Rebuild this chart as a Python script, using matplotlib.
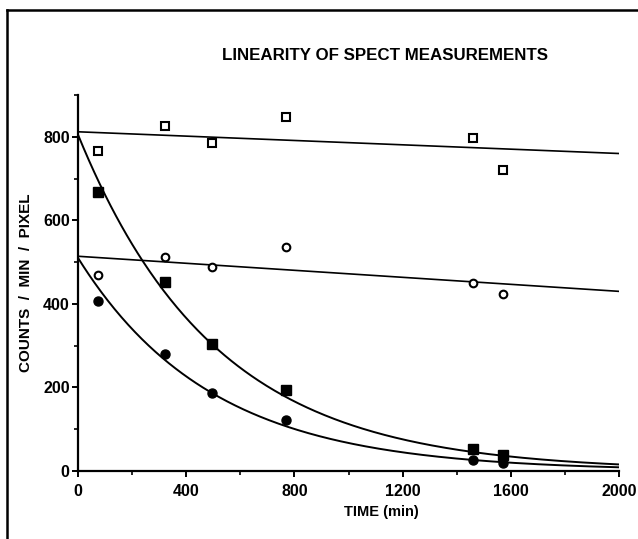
import numpy as np
import matplotlib
matplotlib.use("Agg")
from matplotlib import pyplot as plt
from matplotlib.ticker import MultipleLocator

plt.rcParams["font.family"] = ["Liberation Sans", "DejaVu Sans"]
plt.rcParams["font.weight"] = "bold"

TITLE = "LINEARITY OF SPECT MEASUREMENTS"

# sample times (min)
time_min = [75, 320, 495, 770, 1460, 1570]

# measured counts / min / pixel
open_square = [767, 825, 785, 847, 797, 721]
open_circle = [469, 513, 489, 536, 450, 423]
filled_square = [669, 452, 304, 193, 52, 38]
filled_circle = [408, 279, 187, 123, 26, 20]

# fitted lines: (intercept, slope) for the flat ones,
# (start value, decay constant per min) for the decaying ones
line_open_square = (812, -0.026)
line_open_circle = (514, -0.042)
decay_filled_square = (805, 0.00197)
decay_filled_circle = (510, 0.00203)

fig = plt.figure(figsize=(6.38, 5.39), dpi=100)
ax = fig.add_axes([0.1223, 0.1262, 0.8480, 0.6975])

t = np.linspace(0, 2000, 400)
ax.plot(t, line_open_square[0] + line_open_square[1] * t, color="black", lw=1.2)
ax.plot(t, line_open_circle[0] + line_open_circle[1] * t, color="black", lw=1.2)
ax.plot(t, decay_filled_square[0] * np.exp(-decay_filled_square[1] * t),
        color="black", lw=1.4)
ax.plot(t, decay_filled_circle[0] * np.exp(-decay_filled_circle[1] * t),
        color="black", lw=1.4)

ax.plot(time_min, open_square, "s", ms=5.5, mfc="white", mec="black",
        mew=1.5, ls="none", clip_on=False, zorder=5)
ax.plot(time_min, open_circle, "o", ms=5.5, mfc="white", mec="black",
        mew=1.5, ls="none", clip_on=False, zorder=5)
ax.plot(time_min, filled_square, "s", ms=6.5, color="black", ls="none",
        clip_on=False, zorder=5)
ax.plot(time_min, filled_circle, "o", ms=6.5, color="black", ls="none",
        clip_on=False, zorder=5)

ax.set_xlim(0, 2000)
ax.set_ylim(0, 900)
ax.spines["top"].set_visible(False)
ax.spines["right"].set_visible(False)
for side in ("left", "bottom"):
    ax.spines[side].set_linewidth(1.6)

ax.xaxis.set_major_locator(MultipleLocator(400))
ax.xaxis.set_minor_locator(MultipleLocator(200))
ax.yaxis.set_major_locator(MultipleLocator(200))
ax.yaxis.set_minor_locator(MultipleLocator(100))
ax.tick_params(which="major", direction="out", length=4.5, width=1.4,
               labelsize=11.5)
ax.tick_params(axis="x", which="major", pad=5)
ax.tick_params(axis="y", which="major", pad=1.5)
ax.tick_params(which="minor", direction="out", length=3, width=1.2)
for lab in ax.get_xticklabels() + ax.get_yticklabels():
    lab.set_fontweight("bold")

ax.set_xlabel("TIME (min)", fontsize=10.5, fontweight="bold")
ax.xaxis.set_label_coords(0.56, -0.09)
ax.set_ylabel("COUNTS  /  MIN  /  PIXEL", fontsize=11, fontweight="bold")
ax.yaxis.set_label_coords(-0.083, 0.5)

fig.text(385 / 638, 1 - 55 / 539, TITLE, ha="center", va="center",
         fontsize=12.2, fontweight="bold")

# page frame (only the top and left edges are inside the picture)
fig.add_artist(plt.Line2D([7 / 638, 7 / 638], [0, 1 - 10 / 539],
                          color="black", lw=1.8))
fig.add_artist(plt.Line2D([7 / 638, 1], [1 - 10 / 539, 1 - 10 / 539],
                          color="black", lw=1.8))

fig.savefig("out.png", dpi=100)
plt.close(fig)
